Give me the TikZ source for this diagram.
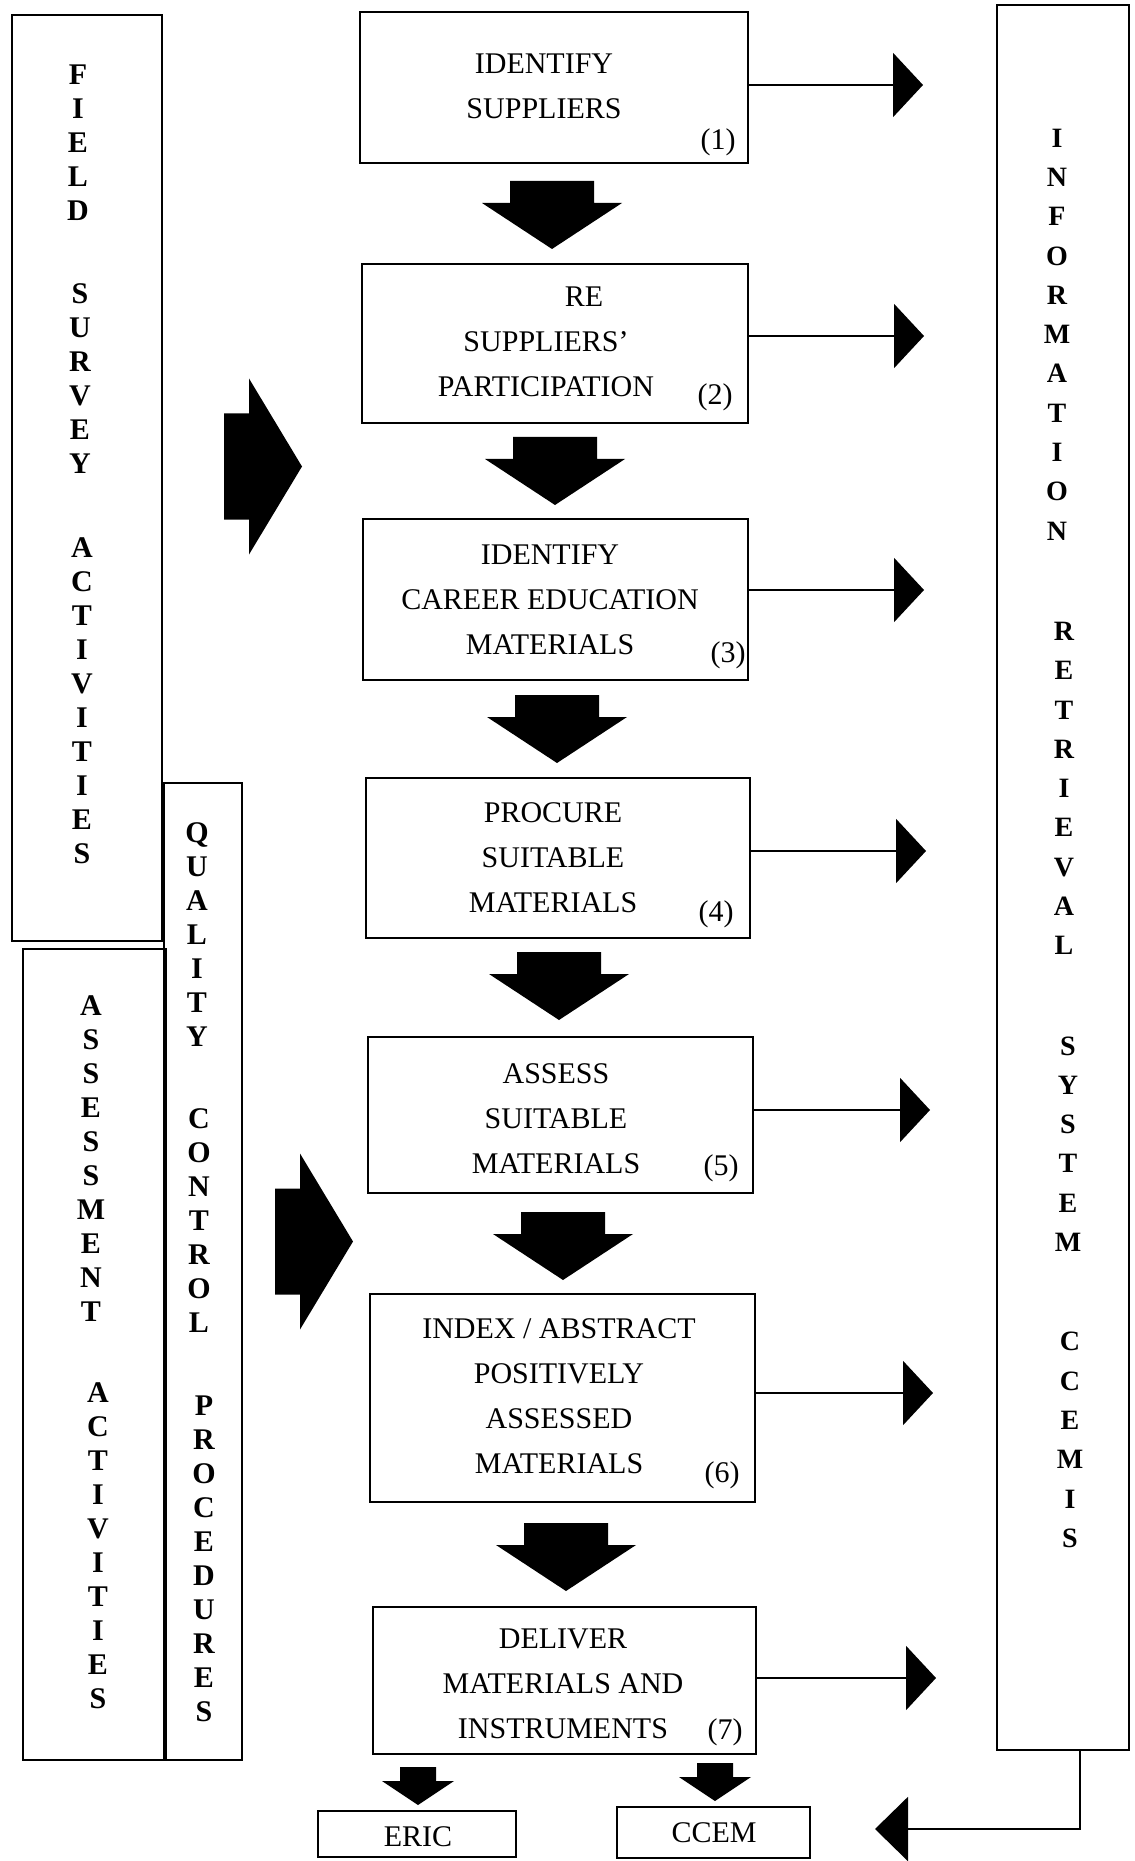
\documentclass[tikz,border=0pt]{standalone}
\usepackage{fontspec}
\setmainfont{Liberation Serif}
\usetikzlibrary{arrows.meta}
\begin{document}
\begin{tikzpicture}[x=0.5pt,y=-0.5pt,
  box/.style={draw,line width=1.2pt,inner sep=0pt},
  boxtext/.style={align=center,inner sep=0pt,font=\fontsize{15}{22.5}\selectfont},
  numtext/.style={inner sep=0pt,font=\fontsize{15}{18}\selectfont},
  sidetext/.style={align=center,inner sep=0pt,font=\bfseries\fontsize{15}{17}\selectfont},
  infotext/.style={align=center,inner sep=0pt,font=\bfseries\fontsize{14}{19.65}\selectfont},
  conn/.style={line width=1.2pt,-{Triangle[length=15pt,width=32pt]}},
  pics/downblock/.style={code={\fill (-42,0) -- (42,0) -- (42,22) -- (70,22) -- (0,68) -- (-70,22) -- (-42,22) -- cycle;}},
  pics/smalldown/.style={code={\fill (-18,0) -- (18,0) -- (18,14) -- (36,14) -- (0,38) -- (-36,14) -- (-18,14) -- cycle;}},
  pics/rightblock/.style={code={\fill (0,-53) -- (25,-53) -- (25,-88) -- (78,0) -- (25,88) -- (25,53) -- (0,53) -- cycle;}}
]
\useasboundingbox (0,0) rectangle (1134,1861);

% side panels
\node[box,minimum width=75pt,minimum height=463pt] (field) at (87,478) {};
\node[box,minimum width=71.5pt,minimum height=405.5pt] (assess) at (94.5,1354.5) {};
\node[box,minimum width=39pt,minimum height=488.5pt] (quality) at (203,1271.5) {};
\node[box,minimum width=66pt,minimum height=872.5pt] (info) at (1063,877.5) {};

% panel captions, one letter per line
\node[sidetext] (fw1) at (78,142.5) {F\\I\\E\\L\\D};
\node[sidetext] (fw2) at (80,378.5) {S\\U\\R\\V\\E\\Y};
\node[sidetext] (fw3) at (82,701) {A\\C\\T\\I\\V\\I\\T\\I\\E\\S};
\node[sidetext] (aw1) at (91,1159) {A\\S\\S\\E\\S\\S\\M\\E\\N\\T};
\node[sidetext] (aw2) at (98,1545.5) {A\\C\\T\\I\\V\\I\\T\\I\\E\\S};
\node[sidetext] (qw1) at (197,934.5) {Q\\U\\A\\L\\I\\T\\Y};
\node[sidetext] (qw2) at (199,1221) {C\\O\\N\\T\\R\\O\\L};
\node[sidetext] (qw3) at (204,1559) {P\\R\\O\\C\\E\\D\\U\\R\\E\\S};
\node[infotext] (iw1) at (1057,334.5) {I\\N\\F\\O\\R\\M\\A\\T\\I\\O\\N};
\node[infotext] (iw2) at (1064,788.5) {R\\E\\T\\R\\I\\E\\V\\A\\L};
\node[infotext] (iw3) at (1068,1144) {S\\Y\\S\\T\\E\\M};
\node[infotext] (iw4) at (1070,1440) {C\\C\\E\\M\\I\\S};

% process steps
\node[box,minimum width=194pt,minimum height=75.5pt] (b1) at (554,87.5) {};
\node[box,minimum width=193pt,minimum height=79.5pt] (b2) at (555,343.5) {};
\node[box,minimum width=192.5pt,minimum height=80.5pt] (b3) at (555.5,599.5) {};
\node[box,minimum width=192pt,minimum height=80pt] (b4) at (558,858) {};
\node[box,minimum width=192.5pt,minimum height=78pt] (b5) at (560.5,1115) {};
\node[box,minimum width=192.5pt,minimum height=104pt] (b6) at (562.5,1398) {};
\node[box,minimum width=191.5pt,minimum height=73.5pt] (b7) at (564.5,1680.5) {};

\node[boxtext] (t1) at (544,86) {IDENTIFY\\SUPPLIERS};
\node[boxtext] (t2) at (546,342) {\hspace*{38pt}RE\\SUPPLIERS'\\PARTICIPATION};
\node[boxtext] (t3) at (550,600) {IDENTIFY\\CAREER EDUCATION\\MATERIALS};
\node[boxtext] (t4) at (553,857.5) {PROCURE\\SUITABLE\\MATERIALS};
\node[boxtext] (t5) at (556,1118.5) {ASSESS\\SUITABLE\\MATERIALS};
\node[boxtext] (t6) at (559,1396.5) {INDEX / ABSTRACT\\POSITIVELY\\ASSESSED\\MATERIALS};
\node[boxtext] (t7) at (563,1683.5) {DELIVER\\MATERIALS AND\\INSTRUMENTS};

\node[numtext] (n1) at (718,142) {(1)};
\node[numtext] (n2) at (715,397) {(2)};
\node[numtext] (n3) at (728,655) {(3)};
\node[numtext] (n4) at (716,914) {(4)};
\node[numtext] (n5) at (721,1168) {(5)};
\node[numtext] (n6) at (722,1475) {(6)};
\node[numtext] (n7) at (725,1732) {(7)};

% block arrows between steps
\pic (d12) at (552,181) {downblock};
\pic (d23) at (555,437) {downblock};
\pic (d34) at (557,695) {downblock};
\pic (d45) at (559,952) {downblock};
\pic (d56) at (563,1212) {downblock};
\pic (d67) at (566,1523) {downblock};

% block arrows from the side panels
\pic (rfield) at (224,466.5) {rightblock};
\pic (rassess) at (275,1241.5) {rightblock};

% outputs
\node[box,minimum width=99pt,minimum height=23pt] (eric) at (417,1834) {};
\node[box,minimum width=96.5pt,minimum height=25.5pt] (ccem) at (713.5,1832.5) {};
\node[boxtext] (teric) at (418,1837) {ERIC};
\node[boxtext] (tccem) at (714,1833) {CCEM};
\pic (deric) at (418,1767) {smalldown};
\pic (dccem) at (715,1763) {smalldown};

% links into the information retrieval system
\coordinate (r1) at (923,85);
\coordinate (r2) at (924,336);
\coordinate (r3) at (924,590);
\coordinate (r4) at (926,851);
\coordinate (r5) at (930,1110);
\coordinate (r6) at (933,1393);
\coordinate (r7) at (936,1678);
\draw[conn] (b1.east |- r1) -- (r1);
\draw[conn] (b2.east |- r2) -- (r2);
\draw[conn] (b3.east |- r3) -- (r3);
\draw[conn] (b4.east |- r4) -- (r4);
\draw[conn] (b5.east |- r5) -- (r5);
\draw[conn] (b6.east |- r6) -- (r6);
\draw[conn] (b7.east |- r7) -- (r7);

% feedback from the system to CCEM
\coordinate (fb) at (1080,1829);
\coordinate (ftip) at (875,1829);
\draw[line width=1.2pt,-{Triangle[length=16.5pt,width=32pt]}] (info.south -| fb) -- (fb) -- (ftip);
\end{tikzpicture}
\end{document}
